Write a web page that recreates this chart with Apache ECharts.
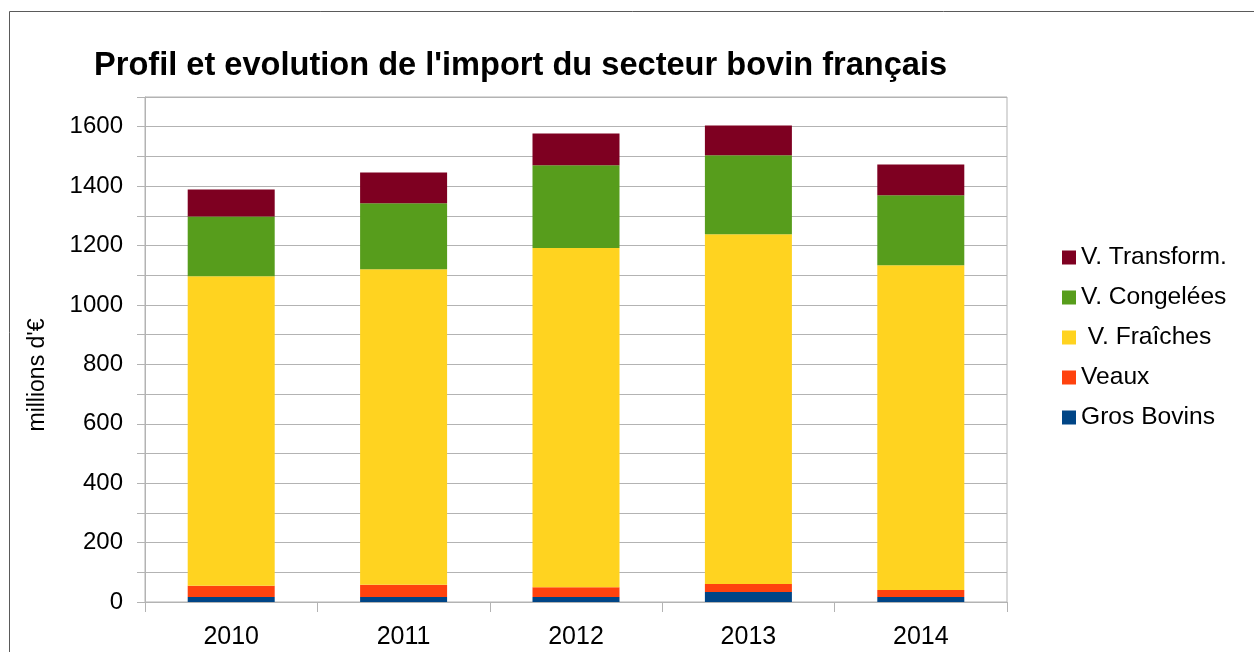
<!DOCTYPE html>
<html>
<head>
<meta charset="utf-8">
<script src="https://cdn.jsdelivr.net/npm/echarts@6/dist/echarts.min.js"></script>
<style>
  html, body { margin: 0; padding: 0; background: #fff; }
  #container { width: 1254px; height: 652px; }
</style>
</head>
<body>
<div id="container"></div>
<script>
// données (millions d'€)
var annees = ['2010', '2011', '2012', '2013', '2014'];
var grosBovins = [17, 17, 17, 34, 17];
var veaux = [38, 41, 33, 27, 23];
var vFraiches = [1042, 1062, 1142, 1177, 1094];
var vCongelees = [201, 222, 278, 266, 235];
var vTransform = [91, 104, 107, 100, 104];

var legendArr = ['V. Transform.', 'V. Congelées', ' V. Fraîches', 'Veaux', 'Gros Bovins'];

var police = 'Liberation Sans, Arial, sans-serif';
var myChart = echarts.init(document.getElementById('container'));

function serie(nom, data, couleur) {
    return {
        name: nom,
        type: 'bar',
        stack: 'total',
        barWidth: 87,
        data: data,
        itemStyle: { color: couleur },
        emphasis: { disabled: true }
    };
}

var option = {
    backgroundColor: '#fff',
    animation: false,
    textStyle: { fontFamily: police },
    title: {
        text: "Profil et evolution de l'import du secteur bovin français",
        left: 89,
        top: 45,
        textStyle: { fontFamily: police, fontSize: 32.6, fontWeight: 'bold', color: '#000' }
    },
    graphic: [{
        type: 'rect',
        position: [9.5, 11.5],
        shape: { x: 0, y: 0, width: 1400, height: 800 },
        style: { fill: 'none', stroke: '#5a5a5a', lineWidth: 1 },
        silent: true
    }, {
        // titre de l'axe Y
        type: 'text',
        position: [38, 375],
        rotation: Math.PI / 2,
        style: {
            text: "millions d'€",
            fill: '#000',
            font: '23px Liberation Sans, Arial, sans-serif',
            textAlign: 'center',
            textVerticalAlign: 'middle'
        },
        silent: true
    }],
    legend: {
        orient: 'vertical',
        left: 1057,
        top: 240,
        itemWidth: 14,
        itemHeight: 14,
        itemGap: 15,
        icon: 'rect',
        data: legendArr,
        textStyle: { fontFamily: police, fontSize: 24.6, color: '#000' }
    },
    grid: {
        left: 145,
        right: 247,
        top: 97,
        bottom: 50,
        show: true,
        borderColor: '#b3b3b3',
        borderWidth: 1
    },
    xAxis: {
        type: 'category',
        data: annees,
        boundaryGap: true,
        axisLine: { lineStyle: { color: '#b3b3b3' } },
        axisTick: { show: true, length: 10, lineStyle: { color: '#b3b3b3' } },
        axisLabel: { color: '#000', fontSize: 25, margin: 23, fontFamily: police }
    },
    yAxis: {
        type: 'value',
        min: 0,
        max: 1700,
        interval: 100,
        axisLine: { show: true, lineStyle: { color: '#b3b3b3' } },
        axisTick: { show: true, length: 8, lineStyle: { color: '#b3b3b3' } },
        axisLabel: {
            color: '#000',
            fontSize: 24,
            margin: 22,
            fontFamily: police,
            formatter: function (v) { return (v % 200 === 0 && v < 1700) ? String(v) : ''; }
        },
        splitLine: { show: true, lineStyle: { color: '#b3b3b3' } }
    },
    series: [
        serie('Gros Bovins', grosBovins, '#004586'),
        serie('Veaux', veaux, '#ff420e'),
        serie(' V. Fraîches', vFraiches, '#ffd320'),
        serie('V. Congelées', vCongelees, '#579d1c'),
        serie('V. Transform.', vTransform, '#7e0021')
    ]
};

myChart.setOption(option);
</script>
</body>
</html>
